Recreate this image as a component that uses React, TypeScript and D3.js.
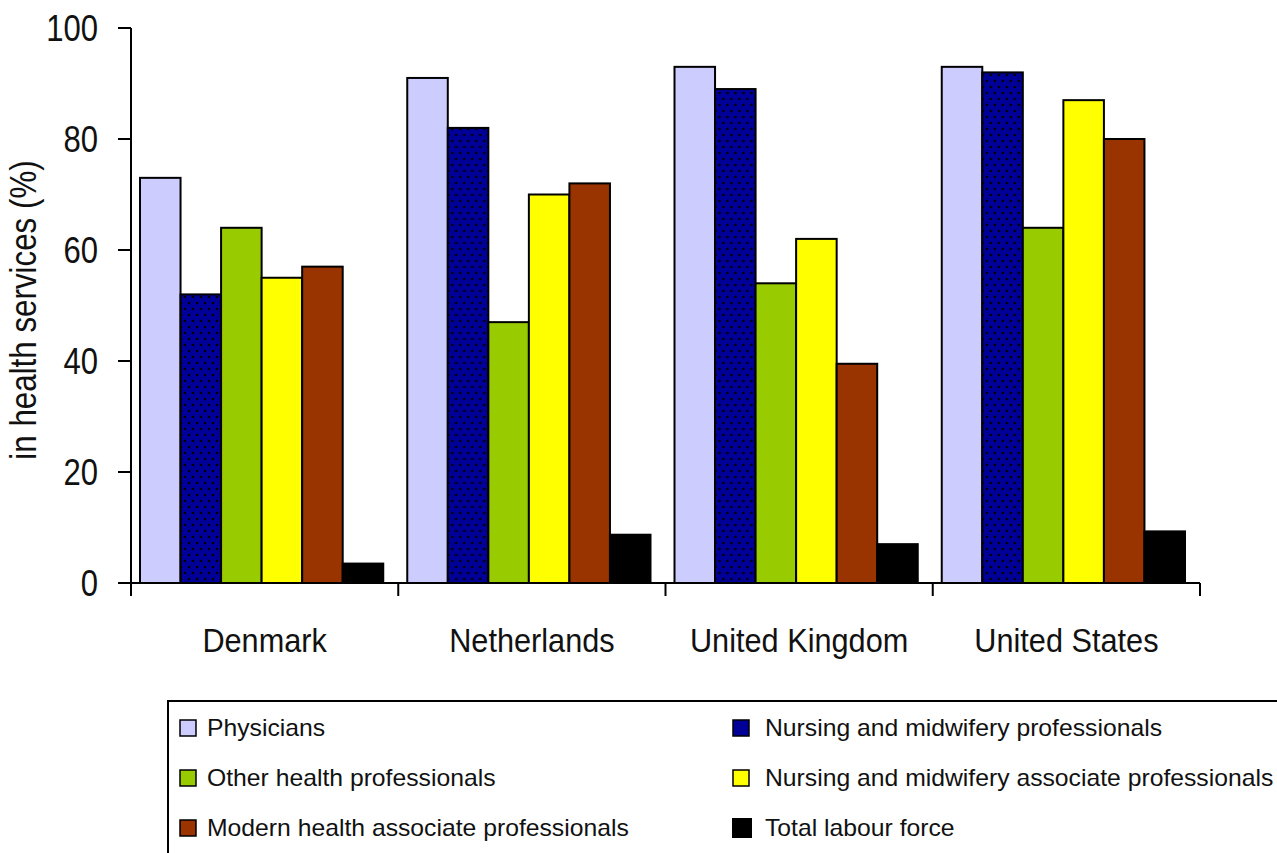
import React from "react";
import * as d3 from "d3";

// Share of each occupation group employed in health services, by country
const countries = ["Denmark", "Netherlands", "United Kingdom", "United States"];
const seriesNames = [
  "Physicians",
  "Nursing and midwifery professionals",
  "Other health professionals",
  "Nursing and midwifery associate professionals",
  "Modern health associate professionals",
  "Total labour force",
];
const physicians = [73, 91, 93, 93];
const nursingProfessionals = [52, 82, 89, 92];
const otherHealth = [64, 47, 54, 64];
const nursingAssociates = [55, 70, 62, 87];
const modernHealthAssociates = [57, 72, 39.5, 80];
const totalLabourForce = [3.5, 8.7, 7, 9.3];
const yTicks = [0, 20, 40, 60, 80, 100];

const seriesValues = [
  physicians,
  nursingProfessionals,
  otherHealth,
  nursingAssociates,
  modernHealthAssociates,
  totalLabourForce,
];
const fills = ["#CCCCFF", "url(#dots)", "#99CC00", "#FFFF00", "#993300", "#000000"];
const legendFills = ["#CCCCFF", "#000099", "#99CC00", "#FFFF00", "#993300", "#000000"];

const W = 1277;
const H = 853;
const left = 131;
const right = 1200;
const top = 28;
const bottom = 583;
const FONT = "'Liberation Sans', Arial, sans-serif";

export default function App() {
  const y = d3.scaleLinear().domain([0, 100]).range([bottom, top]);
  const x0 = d3.scaleBand<string>().domain(countries).range([left, right]).padding(0);
  const groupW = x0.bandwidth();
  const x1 = d3
    .scaleBand<string>()
    .domain(seriesNames)
    .range([9, groupW - 15])
    .padding(0);

  const catTicks = [...countries.map((c) => x0(c) as number), right];

  // legend layout: two columns, three rows
  const legendCols = [180, 733];
  const legendRows = [728, 778, 828];

  return (
    <svg
      width={W}
      height={H}
      style={{ position: "absolute", left: 0, top: 0, background: "#fff" }}
      fontFamily={FONT}
    >
      <defs>
        <pattern id="dots" width="8" height="12" patternUnits="userSpaceOnUse">
          <rect width="8" height="12" fill="#000099" />
          <circle cx="2" cy="3" r="1.3" fill="#000" />
          <circle cx="6" cy="9" r="1.3" fill="#000" />
        </pattern>
      </defs>

      {/* bars */}
      {countries.map((c, ci) => (
        <g key={c} transform={`translate(${x0(c)},0)`}>
          {seriesNames.map((s, si) => {
            const v = seriesValues[si][ci];
            return (
              <rect
                key={s}
                x={x1(s)}
                y={y(v)}
                width={x1.bandwidth()}
                height={y(0) - y(v)}
                fill={fills[si]}
                stroke="#000"
                strokeWidth={2}
              />
            );
          })}
        </g>
      ))}

      {/* y axis */}
      <line x1={left} x2={left} y1={top} y2={bottom + 13} stroke="#000" strokeWidth={2} />
      {yTicks.map((t) => (
        <g key={t}>
          <line x1={left - 13} x2={left} y1={y(t)} y2={y(t)} stroke="#000" strokeWidth={2} />
          <text
            transform={`translate(98,${y(t)}) scale(0.84,1)`}
            textAnchor="end"
            dominantBaseline="central"
            fontSize={37}
            fill="#111"
          >
            {t}
          </text>
        </g>
      ))}

      {/* x axis */}
      <line x1={left - 13} x2={right} y1={bottom} y2={bottom} stroke="#000" strokeWidth={2} />
      {catTicks.map((t, i) => (
        <line key={i} x1={t} x2={t} y1={bottom} y2={bottom + 13} stroke="#000" strokeWidth={2} />
      ))}
      {countries.map((c) => (
        <text
          key={c}
          transform={`translate(${(x0(c) as number) + groupW / 2},652) scale(0.93,1)`}
          textAnchor="middle"
          fontSize={33}
          fill="#111"
        >
          {c}
        </text>
      ))}

      {/* y axis title */}
      <text
        transform={`translate(36,310) rotate(-90) scale(0.87,1)`}
        textAnchor="middle"
        fontSize={36}
        fill="#111"
      >
        in health services (%)
      </text>

      {/* legend */}
      <rect x={168} y={701} width={1200} height={300} fill="none" stroke="#000" strokeWidth={2} />
      {seriesNames.map((s, i) => {
        const cx = legendCols[i % 2];
        const cy = legendRows[Math.floor(i / 2)];
        const isBlack = i === 5;
        const size = isBlack ? 20 : 16;
        const tx = cx + (i % 2 === 0 ? 27 : 32);
        return (
          <g key={s}>
            <rect
              x={cx + (isBlack ? -1 : 0)}
              y={cy - size / 2}
              width={size}
              height={size}
              fill={legendFills[i]}
              stroke="#000"
              strokeWidth={isBlack ? 0 : 1.5}
            />
            <text
              transform={`translate(${tx},${cy}) scale(1.03,1)`}
              dominantBaseline="central"
              fontSize={24}
              fill="#111"
            >
              {s}
            </text>
          </g>
        );
      })}
    </svg>
  );
}
